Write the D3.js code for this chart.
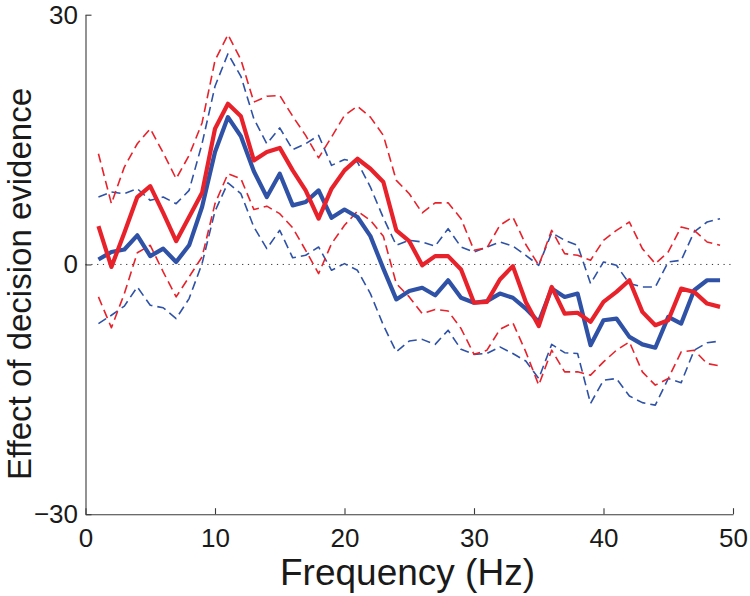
<!DOCTYPE html>
<html>
<head>
<meta charset="utf-8">
<script src="https://cdn.jsdelivr.net/npm/d3@7"></script>
<style>
  html, body { margin: 0; padding: 0; background: #fff; }
  svg { display: block; }
  text { font-family: "Liberation Sans", Arial, Helvetica, sans-serif; fill: #1a1a1a; }
</style>
</head>
<body>
<svg id="chart" width="750" height="596"></svg>
<script>
// ---- Data ----
const freqs = [1,2,3,4,5,6,7,8,9,10,11,12,13,14,15,16,17,18,19,20,21,22,23,24,25,26,27,28,29,30,31,32,33,34,35,36,37,38,39,40,41,42,43,44,45,46,47,48,49];

const blueMean = [0.6,1.5,1.8,3.5,1.0,1.9,0.3,2.3,6.9,13.5,17.7,15.4,11.2,8.1,10.9,7.1,7.5,8.9,5.6,6.6,5.7,3.4,-0.5,-4.2,-3.2,-2.8,-3.7,-1.9,-4.0,-4.6,-4.4,-3.5,-4.0,-5.3,-6.9,-2.9,-3.9,-3.5,-9.7,-6.7,-6.5,-8.7,-9.6,-10.0,-6.3,-7.1,-3.1,-1.9,-1.9];
const blueUpper = [8.1,8.7,8.5,9.1,7.7,8.1,7.3,8.9,14.5,21.4,25.3,22.6,17.5,14.5,16.4,13.8,14.5,15.5,11.9,12.6,12.3,9.3,5.6,2.3,2.9,2.7,2.2,4.3,2.1,1.5,2.1,2.7,2.2,1.1,-0.1,3.8,2.9,2.3,-2.3,0.3,-0.1,-2.3,-2.7,-2.7,0.3,0.5,3.9,5.1,5.5];
const blueLower = [-7.1,-6.1,-5.0,-2.7,-4.9,-5.2,-6.5,-4.1,0.1,6.4,9.8,8.5,4.5,1.9,4.1,0.8,1.1,2.1,-0.7,0.1,-0.7,-3.5,-7.3,-10.5,-9.2,-9.0,-9.6,-7.9,-10.2,-10.8,-10.7,-9.9,-10.7,-11.6,-13.7,-9.6,-10.6,-10.7,-16.7,-13.9,-13.7,-15.8,-16.6,-16.9,-13.7,-14.2,-10.3,-9.4,-9.2];

const redMean = [4.6,-0.3,3.8,8.1,9.4,6.2,2.8,5.7,8.6,16.3,19.3,17.8,12.5,13.5,14.0,11.3,8.9,5.5,9.1,11.3,12.7,11.5,9.9,4.1,2.8,-0.1,1.0,1.0,-0.6,-4.6,-4.5,-1.8,-0.2,-4.5,-7.4,-2.7,-5.9,-5.8,-6.9,-4.5,-3.3,-1.9,-5.7,-7.3,-6.7,-2.9,-3.3,-4.7,-5.1];
const redUpper = [13.3,7.3,11.7,14.5,16.3,13.4,10.3,13.1,17.0,24.5,27.6,24.6,19.5,20.2,20.3,17.8,15.5,12.8,15.3,17.9,19.0,17.7,15.5,10.1,8.5,6.2,7.4,7.4,5.5,1.7,2.0,4.7,5.7,2.4,-0.1,4.1,1.3,1.1,0.5,2.9,4.1,5.1,1.9,0.1,1.5,4.5,4.1,2.7,2.3];
const redLower = [-3.9,-7.6,-3.5,1.4,2.3,-0.9,-3.9,-1.5,0.9,7.3,10.9,10.3,6.6,7.0,6.1,4.4,1.7,-1.1,2.5,4.7,6.4,5.3,3.4,-2.3,-3.9,-5.9,-5.4,-5.6,-7.7,-10.8,-10.3,-7.8,-7.0,-10.5,-14.5,-10.3,-12.9,-12.9,-13.3,-11.7,-10.3,-9.3,-12.9,-14.5,-13.7,-10.5,-10.3,-11.9,-12.2];

const xTickValues = [0,10,20,30,40,50];
const xTickLabels = ["0","10","20","30","40","50"];
const yTickValues = [-30,0,30];
const yTickLabels = ["\u221230","0","30"];
const xTitle = "Frequency (Hz)";
const yTitle = "Effect of decision evidence";

// ---- Drawing ----
const svg = d3.select("#chart");
const x = d3.scaleLinear().domain([0, 50]).range([85.5, 733]);
const y = d3.scaleLinear().domain([-30, 30]).range([514.2, 14.7]);

const BLUE = "#2f52a6";
const RED = "#e8222b";
const AX = "#3a3a3a";

// zero reference line (dotted)
svg.append("line")
  .attr("x1", x(0)).attr("x2", x(50))
  .attr("y1", y(0)).attr("y2", y(0))
  .attr("stroke", "#333").attr("stroke-width", 1)
  .attr("stroke-dasharray", "1.2,4.6");

const line = d3.line().x((d, i) => x(freqs[i])).y(d => y(d));

function drawSeries(vals, color, width, dash) {
  const p = svg.append("path")
    .attr("d", line(vals))
    .attr("fill", "none")
    .attr("stroke", color)
    .attr("stroke-width", width)
    .attr("stroke-linejoin", "round");
  if (dash) p.attr("stroke-dasharray", dash);
}

drawSeries(blueUpper, BLUE, 1.6, "9,5");
drawSeries(blueLower, BLUE, 1.6, "9,5");
drawSeries(redUpper, RED, 1.6, "9,5");
drawSeries(redLower, RED, 1.6, "9,5");
drawSeries(blueMean, BLUE, 4.2, null);
drawSeries(redMean, RED, 4.2, null);

// axes
const xAxis = d3.axisBottom(x)
  .tickValues(xTickValues)
  .tickFormat((d, i) => xTickLabels[i])
  .tickSizeInner(-6).tickSizeOuter(0).tickPadding(14);
const yAxis = d3.axisLeft(y)
  .tickValues(yTickValues)
  .tickFormat((d, i) => yTickLabels[i])
  .tickSizeInner(-6).tickSizeOuter(0).tickPadding(7.5);

const gx = svg.append("g").attr("transform", `translate(0,${y(-30)})`).call(xAxis);
const gy = svg.append("g").attr("transform", `translate(${x(0)},0)`).call(yAxis);

[gx, gy].forEach(g => {
  g.select(".domain").attr("stroke", AX).attr("stroke-width", 1.1);
  g.selectAll(".tick line").attr("stroke", AX).attr("stroke-width", 1.1);
  g.selectAll(".tick text")
    .attr("font-family", "'Liberation Sans', Arial, Helvetica, sans-serif")
    .attr("font-size", 26).attr("fill", "#1a1a1a");
});

// axis titles
svg.append("text")
  .attr("x", 407.5).attr("y", 585)
  .attr("text-anchor", "middle")
  .attr("font-size", 37)
  .text(xTitle);

svg.append("text")
  .attr("transform", "translate(31,284) rotate(-90)")
  .attr("text-anchor", "middle")
  .attr("font-size", 33)
  .attr("textLength", 392)
  .attr("lengthAdjust", "spacingAndGlyphs")
  .text(yTitle);
</script>
</body>
</html>
